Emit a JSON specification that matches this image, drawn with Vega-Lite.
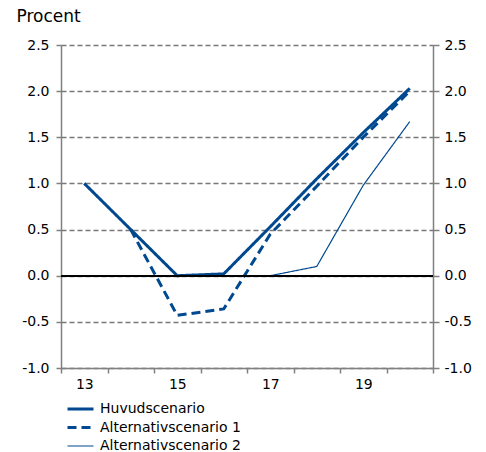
{
  "$schema": "https://vega.github.io/schema/vega-lite/v6.json",
  "width": 372,
  "height": 323,
  "autosize": {"type": "none"},
  "padding": {"left": 61, "top": 45, "right": 53, "bottom": 84},
  "background": "white",
  "config": {
    "font": "DejaVu Sans",
    "view": {"stroke": null},
    "axis": {
      "labelFontSize": 14,
      "labelColor": "#000000",
      "domainColor": "#808080",
      "tickColor": "#808080",
      "domainWidth": 1.5,
      "tickWidth": 1.5
    }
  },
  "data": {
    "values": [
      {"year": 13, "value": 1.0, "series": "Huvudscenario"},
      {"year": 14, "value": 0.5, "series": "Huvudscenario"},
      {"year": 15, "value": 0.0, "series": "Huvudscenario"},
      {"year": 16, "value": 0.02, "series": "Huvudscenario"},
      {"year": 17, "value": 0.53, "series": "Huvudscenario"},
      {"year": 18, "value": 1.05, "series": "Huvudscenario"},
      {"year": 19, "value": 1.55, "series": "Huvudscenario"},
      {"year": 20, "value": 2.03, "series": "Huvudscenario"},
      {"year": 14, "value": 0.5, "series": "Alternativscenario 1"},
      {"year": 15, "value": -0.43, "series": "Alternativscenario 1"},
      {"year": 16, "value": -0.36, "series": "Alternativscenario 1"},
      {"year": 17, "value": 0.45, "series": "Alternativscenario 1"},
      {"year": 18, "value": 0.97, "series": "Alternativscenario 1"},
      {"year": 19, "value": 1.5, "series": "Alternativscenario 1"},
      {"year": 20, "value": 2.0, "series": "Alternativscenario 1"},
      {"year": 14, "value": 0.5, "series": "Alternativscenario 2"},
      {"year": 15, "value": 0.0, "series": "Alternativscenario 2"},
      {"year": 16, "value": 0.0, "series": "Alternativscenario 2"},
      {"year": 17, "value": 0.0, "series": "Alternativscenario 2"},
      {"year": 18, "value": 0.1, "series": "Alternativscenario 2"},
      {"year": 19, "value": 0.98, "series": "Alternativscenario 2"},
      {"year": 20, "value": 1.67, "series": "Alternativscenario 2"}
    ]
  },
  "layer": [
    {
      "mark": {"type": "line", "color": "#00488f", "strokeCap": "butt"},
      "encoding": {
        "x": {
          "field": "year",
          "type": "quantitative",
          "scale": {"domain": [12.5, 20.5], "nice": false, "zero": false},
          "axis": {
            "title": null,
            "grid": false,
            "values": [12.5, 13.5, 14.5, 15.5, 16.5, 17.5, 18.5, 19.5, 20.5],
            "labelExpr": "(datum.value < 20 && (datum.value + 0.5) % 2 == 1) ? format(datum.value + 0.5, 'd') : ''",
            "labelOffset": 23.3,
            "labelOverlap": false,
            "labelFlush": false,
            "tickSize": 5,
            "labelPadding": 4
          }
        },
        "y": {
          "field": "value",
          "type": "quantitative",
          "scale": {"domain": [-1, 2.5], "nice": false, "zero": false},
          "axis": {
            "values": [-1, -0.5, 0, 0.5, 1, 1.5, 2, 2.5],
            "labelExpr": "datum.value < 0 ? '-' + format(-datum.value, '.1f') : format(datum.value, '.1f')",
            "grid": true,
            "gridDash": [5, 3],
            "gridColor": "#777777",
            "gridWidth": 1.5,
            "tickSize": 5,
            "labelPadding": 7,
            "title": "Procent",
            "titleAngle": 0,
            "titleAlign": "left",
            "titleBaseline": "alphabetic",
            "titleX": -45,
            "titleY": -24,
            "titleFontSize": 17,
            "titleFontWeight": "normal",
            "titleColor": "#000000"
          }
        },
        "strokeDash": {
          "field": "series",
          "type": "nominal",
          "scale": {
            "domain": ["Huvudscenario", "Alternativscenario 1", "Alternativscenario 2"],
            "range": [[1, 0], [9, 5], [1, 0]]
          },
          "legend": {
            "title": null,
            "orient": "none",
            "legendX": 5,
            "legendY": 357,
            "symbolType": "stroke",
            "symbolSize": 676,
            "symbolStrokeColor": "#00488f",
            "labelFontSize": 14,
            "labelColor": "#000000",
            "labelOffset": 5,
            "clipHeight": 14,
            "rowPadding": 4.5,
            "padding": 0
          }
        },
        "strokeWidth": {
          "field": "series",
          "type": "nominal",
          "scale": {
            "type": "ordinal",
            "domain": ["Huvudscenario", "Alternativscenario 1", "Alternativscenario 2"],
            "range": [3, 3, 1.2]
          },
          "legend": {
            "title": null,
            "orient": "none",
            "legendX": 5,
            "legendY": 357,
            "symbolType": "stroke",
            "symbolSize": 676,
            "symbolStrokeColor": "#00488f",
            "labelFontSize": 14,
            "labelColor": "#000000",
            "labelOffset": 5,
            "clipHeight": 14,
            "rowPadding": 4.5,
            "padding": 0
          }
        }
      }
    },
    {
      "mark": {"type": "rule", "color": "#000000", "strokeWidth": 1.5},
      "encoding": {
        "y": {
          "datum": 0,
          "type": "quantitative",
          "axis": {
            "orient": "right",
            "title": null,
            "grid": false,
            "values": [-1, -0.5, 0, 0.5, 1, 1.5, 2, 2.5],
            "labelExpr": "datum.value < 0 ? '-' + format(-datum.value, '.1f') : format(datum.value, '.1f')",
            "tickSize": 6,
            "labelPadding": 5
          }
        }
      }
    }
  ],
  "resolve": {"axis": {"y": "independent"}}
}
